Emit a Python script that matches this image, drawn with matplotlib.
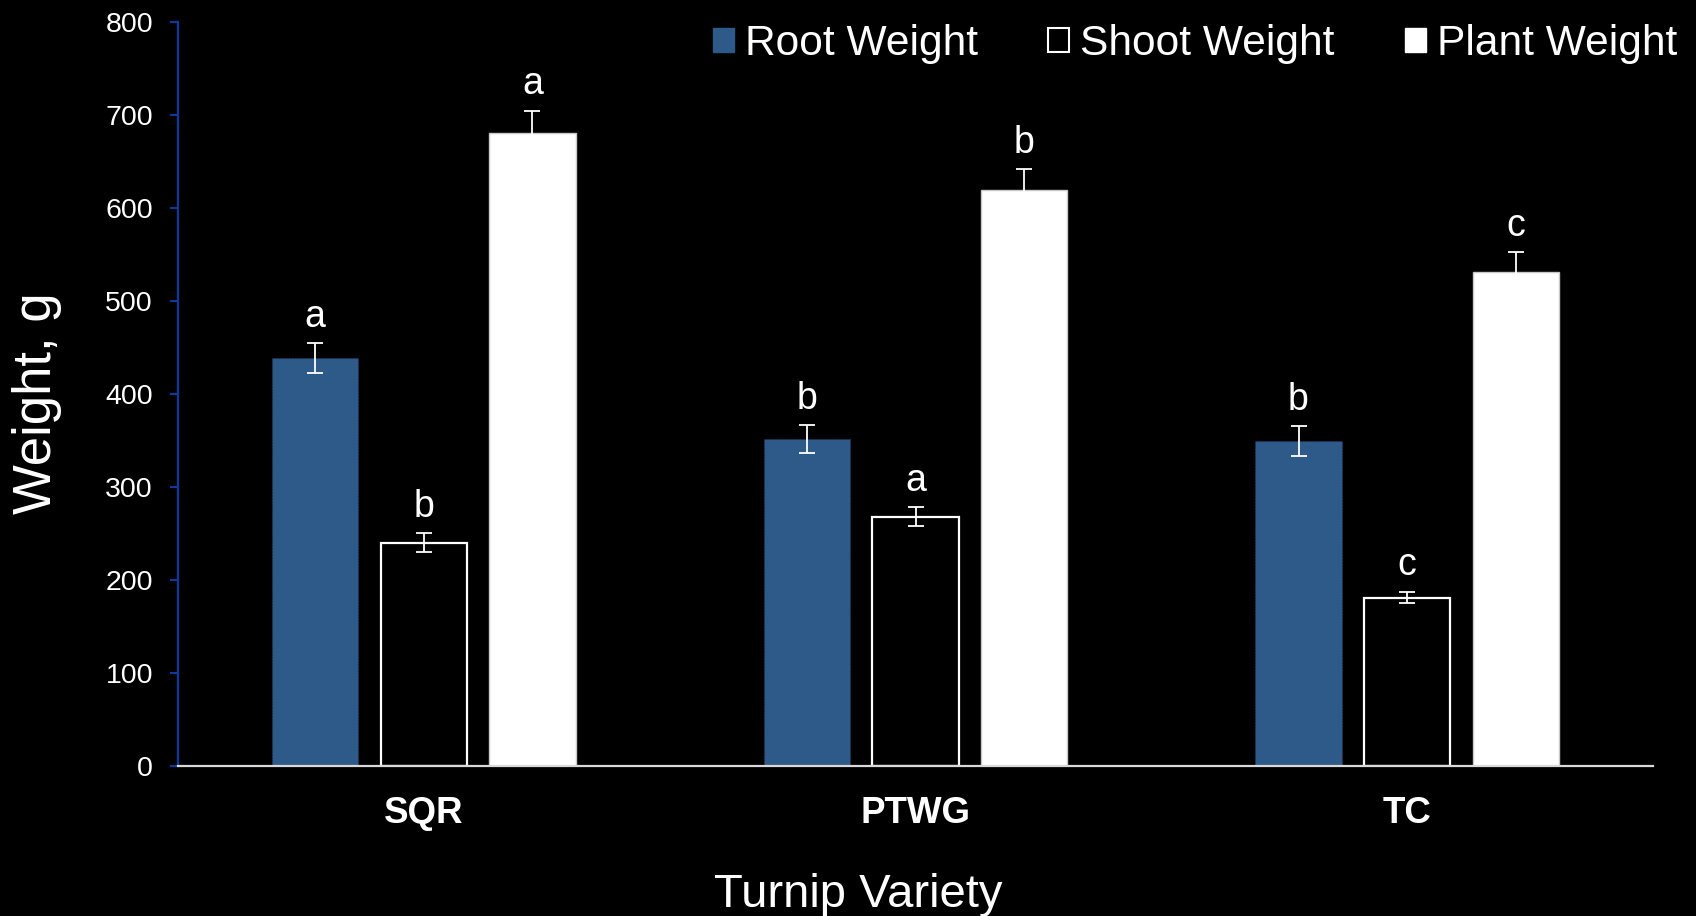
import numpy as np
import matplotlib
matplotlib.use("Agg")
import matplotlib.pyplot as plt
from matplotlib.patches import Patch

plt.rcParams['font.family'] = ['Liberation Sans', 'DejaVu Sans']

varieties = ["SQR", "PTWG", "TC"]
root_weight = [438, 351, 349]
root_err = [16, 15, 16]
shoot_weight = [240, 268, 181]
shoot_err = [10, 10, 6]
plant_weight = [680, 619, 531]
plant_err = [24, 22, 21]
root_letters = ["a", "b", "b"]
shoot_letters = ["b", "a", "c"]
plant_letters = ["a", "b", "c"]
y_ticks = [0, 100, 200, 300, 400, 500, 600, 700, 800]

ROOT_BLUE = "#2e5a8a"
AXIS_BLUE = "#0a3a9e"

W, H = 1696, 916
fig = plt.figure(figsize=(W / 100, H / 100), dpi=100, facecolor="black")
ax = fig.add_axes([178 / W, 1 - 766 / H, (1653 - 178) / W, (766 - 21.5) / H])
ax.set_facecolor("black")

x = np.arange(len(varieties))
bw = 0.175
off = 0.221

ebar = dict(ecolor="white", elinewidth=1.3, capsize=6, capthick=1.3)

ax.bar(x - off, root_weight, bw, color=ROOT_BLUE, edgecolor="#1d3a5c",
       linestyle=":", linewidth=0.8, zorder=2)
ax.bar(x, shoot_weight, bw, color="black", edgecolor="white", linewidth=1.6, zorder=2)
ax.bar(x + off, plant_weight, bw, color="white", edgecolor="#c8c8c8", linewidth=1.0, zorder=2)

for xs, vals, errs, letters in [(x - off, root_weight, root_err, root_letters),
                                (x, shoot_weight, shoot_err, shoot_letters),
                                (x + off, plant_weight, plant_err, plant_letters)]:
    ax.errorbar(xs, vals, yerr=errs, fmt="none", zorder=3, **ebar)
    for xi, v, e, lt in zip(xs, vals, errs, letters):
        ax.annotate(lt, (xi, v + e), xytext=(0, 12), textcoords="offset points",
                    ha="center", va="baseline", color="white", fontsize=27)

ax.set_xlim(-0.5, 2.5)
ax.set_ylim(0, 800)
ax.set_yticks(y_ticks)
ax.set_yticklabels([str(t) for t in y_ticks], color="white", fontsize=20.5)
ax.tick_params(axis="y", direction="out", length=6, width=1.5, color=AXIS_BLUE, pad=12)
ax.set_xticks([])

for s in ["top", "right"]:
    ax.spines[s].set_visible(False)
ax.spines["left"].set_color(AXIS_BLUE)
ax.spines["left"].set_linewidth(1.6)
ax.spines["bottom"].set_color("#d9d9d9")
ax.spines["bottom"].set_linewidth(1.6)

# category labels below the axis
tr = matplotlib.transforms.blended_transform_factory(ax.transData, fig.transFigure)
for xi, name in zip(x, varieties):
    ax.text(xi, 1 - 823 / H, name, transform=tr, ha="center", va="baseline",
            color="white", fontsize=26.5, fontweight="bold")

fig.text(37 / W, 1 - 403 / H, "Weight, g", rotation=90, ha="center", va="center",
         color="white", fontsize=38)
fig.text((712 + 1004) / 2 / W, 1 - 907 / H, "Turnip Variety", ha="center", va="baseline",
         color="white", fontsize=34)

handles = [Patch(facecolor=ROOT_BLUE, edgecolor=ROOT_BLUE, label="Root Weight"),
           Patch(facecolor="black", edgecolor="white", linewidth=1.5, label="Shoot Weight"),
           Patch(facecolor="white", edgecolor="white", label="Plant Weight")]
leg = fig.legend(handles=handles, loc="center left", bbox_to_anchor=(713 / W, 1 - 44 / H),
                 ncol=3, frameon=False, fontsize=30.6, handlelength=0.5, handleheight=0.5,
                 handletextpad=0.26, columnspacing=1.64, borderpad=0, borderaxespad=0)
for t in leg.get_texts():
    t.set_color("white")

fig.savefig("out.png", dpi=100, facecolor="black")
